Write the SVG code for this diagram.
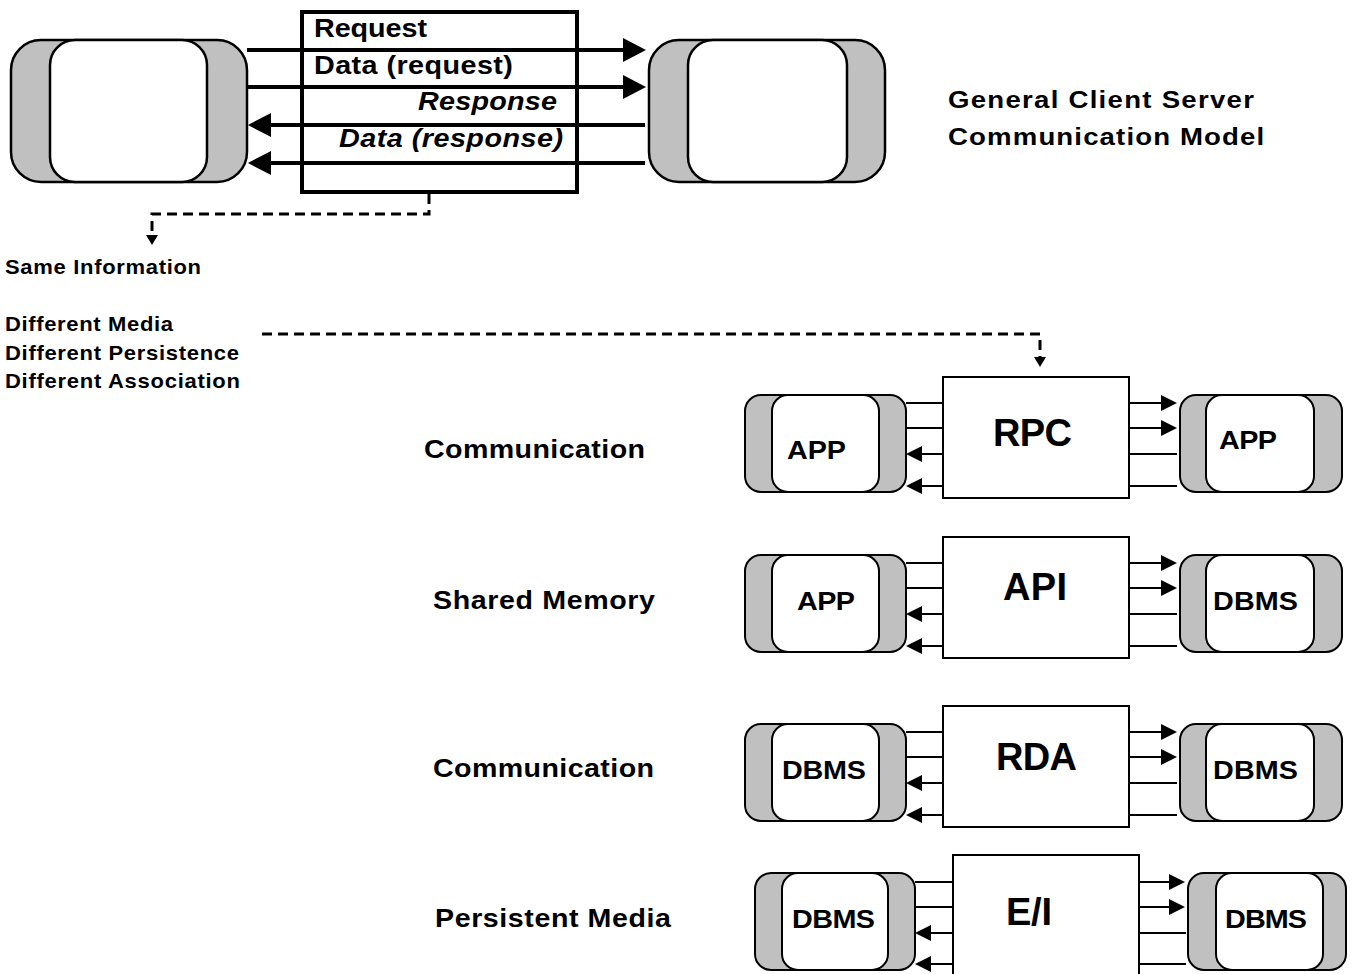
<svg xmlns="http://www.w3.org/2000/svg" width="1356" height="974" viewBox="0 0 1356 974">
<style>
text{font-family:"Liberation Sans",Arial,sans-serif;font-weight:bold;fill:#000}
.outer{fill:#c0c0c0;stroke:#000;stroke-width:2}
.inner{fill:#fff;stroke:#000;stroke-width:2}
.big .outer,.big .inner{stroke-width:2.5}
.box{fill:#fff;stroke:#000;stroke-width:2}
.topbox{fill:#fff;stroke:#000;stroke-width:4}
.tl{stroke:#000;stroke-width:4;fill:none}
.rl{stroke:#000;stroke-width:2;fill:none}
.dash{stroke:#000;stroke-width:3;fill:none;stroke-dasharray:10 6}
.t25{font-size:25px}
.t24{font-size:24px}
.t20{font-size:20px}
.t26{font-size:26px}
.t38{font-size:38px}
.it{font-style:italic}
.mid{text-anchor:middle}
</style>
<defs>
<marker id="ab" markerUnits="userSpaceOnUse" markerWidth="24" markerHeight="24" refX="10" refY="12" orient="auto"><path d="M0,0 L23,12 L0,24 z" fill="#000"/></marker>
<marker id="as" markerUnits="userSpaceOnUse" markerWidth="17" markerHeight="16" refX="6" refY="8" orient="auto"><path d="M0,0 L16,8 L0,16 z" fill="#000"/></marker>
<marker id="ad" markerUnits="userSpaceOnUse" markerWidth="11" markerHeight="12" refX="2" refY="6" orient="auto"><path d="M0,0 L10,6 L0,12 z" fill="#000"/></marker>
</defs>

<g id="client-top" class="big">
<rect class="outer" x="11" y="40" width="236" height="142" rx="30"/>
<rect class="inner" x="50" y="40" width="157" height="142" rx="25"/>
</g>
<g id="server-top" class="big">
<rect class="outer" x="649" y="40" width="236" height="142" rx="30"/>
<rect class="inner" x="688" y="40" width="159" height="142" rx="25"/>
</g>
<g id="message-box">
<rect class="topbox" x="302" y="12" width="275" height="180"/>
</g>

<g id="connectors">
<path class="tl" d="M247,50 H633" marker-end="url(#ab)"/>
<path class="tl" d="M247,87 H633" marker-end="url(#ab)"/>
<path class="tl" d="M645,125 H261" marker-end="url(#ab)"/>
<path class="tl" d="M645,163 H261" marker-end="url(#ab)"/>
<path class="dash" d="M429,194 V214 H152 V237" marker-end="url(#ad)"/>
<path class="dash" d="M262,334 H1040 V359" marker-end="url(#ad)"/>

<path class="rl" d="M906,403 H943 M906,428 H943"/>
<path class="rl" d="M943,454 H916" marker-end="url(#as)"/>
<path class="rl" d="M943,486 H916" marker-end="url(#as)"/>
<path class="rl" d="M1129,403 H1167" marker-end="url(#as)"/>
<path class="rl" d="M1129,428 H1167" marker-end="url(#as)"/>
<path class="rl" d="M1129,454 H1177 M1129,486 H1177"/>

<path class="rl" d="M906,563 H943 M906,588 H943"/>
<path class="rl" d="M943,614 H916" marker-end="url(#as)"/>
<path class="rl" d="M943,646 H916" marker-end="url(#as)"/>
<path class="rl" d="M1129,563 H1167" marker-end="url(#as)"/>
<path class="rl" d="M1129,588 H1167" marker-end="url(#as)"/>
<path class="rl" d="M1129,614 H1177 M1129,646 H1177"/>

<path class="rl" d="M906,732 H943 M906,757 H943"/>
<path class="rl" d="M943,783 H916" marker-end="url(#as)"/>
<path class="rl" d="M943,815 H916" marker-end="url(#as)"/>
<path class="rl" d="M1129,732 H1167" marker-end="url(#as)"/>
<path class="rl" d="M1129,757 H1167" marker-end="url(#as)"/>
<path class="rl" d="M1129,783 H1177 M1129,815 H1177"/>

<path class="rl" d="M915,882 H953 M915,907 H953"/>
<path class="rl" d="M953,933 H925" marker-end="url(#as)"/>
<path class="rl" d="M953,964 H925" marker-end="url(#as)"/>
<path class="rl" d="M1139,882 H1175" marker-end="url(#as)"/>
<path class="rl" d="M1139,907 H1175" marker-end="url(#as)"/>
<path class="rl" d="M1139,933 H1186 M1139,964 H1186"/>
</g>

<g id="message-labels">
<text class="t25" transform="matrix(1.15 0 0 1 314 37)" textLength="98.3" lengthAdjust="spacing">Request</text>
<text class="t25" transform="matrix(1.15 0 0 1 314 74)" textLength="173" lengthAdjust="spacing">Data (request)</text>
<text class="t25 it" transform="matrix(1.15 0 0 1 418 110)" textLength="120.9" lengthAdjust="spacing">Response</text>
<text class="t25 it" transform="matrix(1.15 0 0 1 339 147)" textLength="194.8" lengthAdjust="spacing">Data (response)</text>
</g>

<g id="title">
<text class="t24" transform="matrix(1.15 0 0 1 948 108)" textLength="266" lengthAdjust="spacing">General Client Server</text>
<text class="t24" transform="matrix(1.15 0 0 1 948 145)" textLength="275" lengthAdjust="spacing">Communication Model</text>
</g>

<g id="notes">
<text class="t20" transform="matrix(1.1 0 0 1 5 274)" textLength="178.2" lengthAdjust="spacing">Same Information</text>
<text class="t20" transform="matrix(1.1 0 0 1 5 331)" textLength="152.7" lengthAdjust="spacing">Different Media</text>
<text class="t20" transform="matrix(1.1 0 0 1 5 360)" textLength="212.7" lengthAdjust="spacing">Different Persistence</text>
<text class="t20" transform="matrix(1.1 0 0 1 5 388)" textLength="213.6" lengthAdjust="spacing">Different Association</text>
</g>

<g id="row-rpc">
<text class="t26" transform="matrix(1.1 0 0 1 424 458)" textLength="200.9" lengthAdjust="spacing">Communication</text>
<g id="rpc-left"><rect class="outer" x="745" y="395" width="161" height="97" rx="16"/><rect class="inner" x="772" y="395" width="107" height="97" rx="16"/><text class="t25 mid" transform="matrix(1.15 0 0 1 816.5 459)" textLength="51.3" lengthAdjust="spacing">APP</text></g>
<g id="rpc-box"><rect class="box" x="943" y="377" width="186" height="121"/><text class="t38 mid" x="1032.5" y="446" textLength="79" lengthAdjust="spacing">RPC</text></g>
<g id="rpc-right"><rect class="outer" x="1180" y="395" width="162" height="97" rx="16"/><rect class="inner" x="1206" y="395" width="108" height="97" rx="16"/><text class="t25 mid" transform="matrix(1.15 0 0 1 1248 449)" textLength="50.4" lengthAdjust="spacing">APP</text></g>
</g>

<g id="row-api">
<text class="t26" transform="matrix(1.1 0 0 1 433 609)" textLength="201.8" lengthAdjust="spacing">Shared Memory</text>
<g id="api-left"><rect class="outer" x="745" y="555" width="161" height="97" rx="16"/><rect class="inner" x="772" y="555" width="107" height="97" rx="16"/><text class="t25 mid" transform="matrix(1.15 0 0 1 826 610)" textLength="50.4" lengthAdjust="spacing">APP</text></g>
<g id="api-box"><rect class="box" x="943" y="537" width="186" height="121"/><text class="t38 mid" x="1035" y="600" textLength="64" lengthAdjust="spacing">API</text></g>
<g id="api-right"><rect class="outer" x="1180" y="555" width="162" height="97" rx="16"/><rect class="inner" x="1206" y="555" width="108" height="97" rx="16"/><text class="t25 mid" transform="matrix(1.15 0 0 1 1255.5 610)" textLength="73.9" lengthAdjust="spacing">DBMS</text></g>
</g>

<g id="row-rda">
<text class="t26" transform="matrix(1.1 0 0 1 433 777)" textLength="200.9" lengthAdjust="spacing">Communication</text>
<g id="rda-left"><rect class="outer" x="745" y="724" width="161" height="97" rx="16"/><rect class="inner" x="772" y="724" width="107" height="97" rx="16"/><text class="t25 mid" transform="matrix(1.15 0 0 1 824 779)" textLength="73" lengthAdjust="spacing">DBMS</text></g>
<g id="rda-box"><rect class="box" x="943" y="706" width="186" height="121"/><text class="t38 mid" x="1036.5" y="770" textLength="81" lengthAdjust="spacing">RDA</text></g>
<g id="rda-right"><rect class="outer" x="1180" y="724" width="162" height="97" rx="16"/><rect class="inner" x="1206" y="724" width="108" height="97" rx="16"/><text class="t25 mid" transform="matrix(1.15 0 0 1 1255.5 779)" textLength="73.9" lengthAdjust="spacing">DBMS</text></g>
</g>

<g id="row-ei">
<text class="t26" transform="matrix(1.1 0 0 1 435 927)" textLength="214.5" lengthAdjust="spacing">Persistent Media</text>
<g id="ei-left"><rect class="outer" x="755" y="873" width="160" height="97" rx="16"/><rect class="inner" x="782" y="873" width="106" height="97" rx="16"/><text class="t25 mid" transform="matrix(1.15 0 0 1 833.5 928)" textLength="72.2" lengthAdjust="spacing">DBMS</text></g>
<g id="ei-box"><rect class="box" x="953" y="855" width="186" height="121"/><text class="t38 mid" x="1029" y="925" textLength="46" lengthAdjust="spacing">E/I</text></g>
<g id="ei-right"><rect class="outer" x="1188" y="873" width="158" height="97" rx="16"/><rect class="inner" x="1216" y="873" width="107" height="97" rx="16"/><text class="t25 mid" transform="matrix(1.15 0 0 1 1266 928)" textLength="71.3" lengthAdjust="spacing">DBMS</text></g>
</g>
</svg>
